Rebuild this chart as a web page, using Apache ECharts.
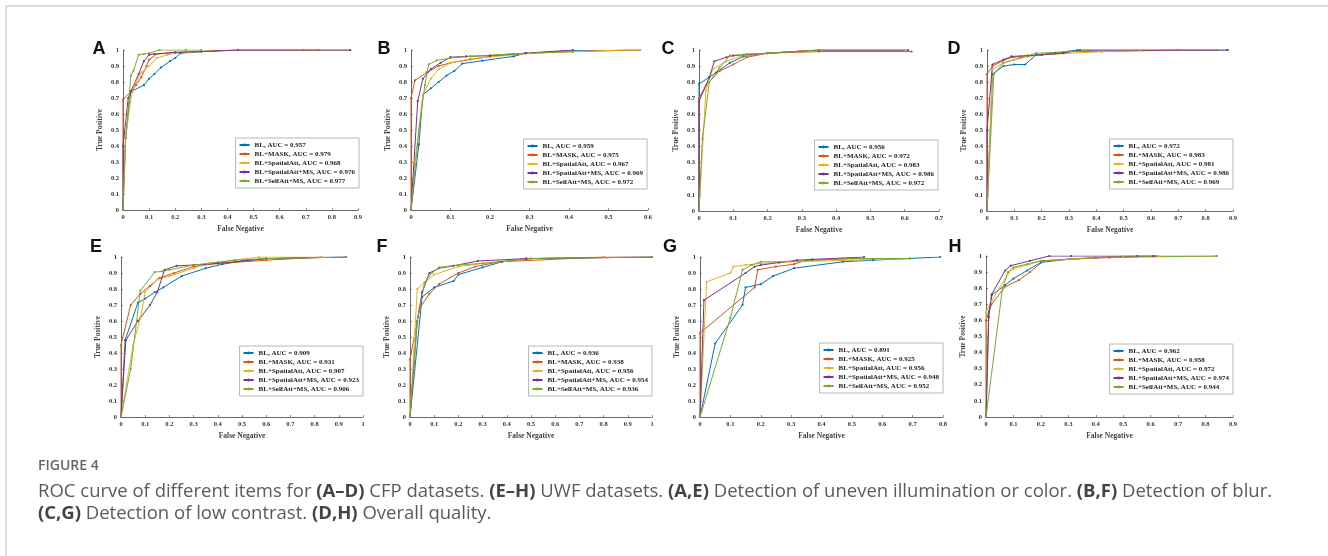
<!DOCTYPE html>
<html><head><meta charset="utf-8">
<script src="https://cdn.jsdelivr.net/npm/echarts@6/dist/echarts.min.js"></script>
<style>html,body{margin:0;padding:0;background:#fff;}#c{width:1328px;height:556px;}</style>
</head><body><div id="c"></div><script>
// ---------- data ----------
const methods = ['BL', 'BL+MASK', 'BL+SpatialAtt', 'BL+SpatialAtt+MS', 'BL+SelfAtt+MS'];
const panelLetters = ['A','B','C','D','E','F','G','H'];
const xMaxes = [0.9, 0.6, 0.7, 0.9, 1, 1, 0.8, 0.9];

const aucA = ['0.957','0.979','0.968','0.976','0.977'];
const aucB = ['0.959','0.975','0.967','0.969','0.972'];
const aucC = ['0.956','0.972','0.983','0.986','0.972'];
const aucD = ['0.972','0.983','0.981','0.986','0.969'];
const aucE = ['0.909','0.931','0.907','0.923','0.906'];
const aucF = ['0.936','0.938','0.956','0.954','0.936'];
const aucG = ['0.891','0.925','0.956','0.948','0.952'];
const aucH = ['0.962','0.958','0.972','0.974','0.944'];

const aBL = [[0,0],[0.01,0.45],[0.03,0.74],[0.08,0.78],[0.1,0.82],[0.12,0.85],[0.145,0.89],[0.18,0.93],[0.2,0.95],[0.22,0.98],[0.3,0.99],[0.44,1],[0.87,1]];
const aMASK = [[0,0],[0,0.69],[0.03,0.74],[0.05,0.78],[0.07,0.83],[0.09,0.9],[0.1,0.94],[0.13,0.975],[0.2,0.985],[0.35,0.995],[0.44,1],[0.69,1],[0.75,1]];
const aSA = [[0,0],[0.01,0.45],[0.03,0.7],[0.05,0.8],[0.07,0.86],[0.1,0.9],[0.13,0.95],[0.17,0.97],[0.2,0.98],[0.3,0.99],[0.44,1],[0.87,1]];
const aSAMS = [[0,0],[0,0.4],[0.02,0.7],[0.03,0.74],[0.06,0.85],[0.08,0.93],[0.1,0.97],[0.12,0.975],[0.2,0.985],[0.3,0.99],[0.44,1],[0.87,1]];
const aSelf = [[0,0],[0.01,0.45],[0.02,0.64],[0.03,0.84],[0.04,0.87],[0.06,0.97],[0.08,0.975],[0.1,0.98],[0.14,1],[0.24,1],[0.3,1]];

const bBL = [[0,0],[0.02,0.41],[0.03,0.72],[0.05,0.76],[0.07,0.8],[0.09,0.84],[0.11,0.87],[0.13,0.915],[0.18,0.933],[0.26,0.96],[0.29,0.98],[0.41,0.995],[0.58,1]];
const bMASK = [[0,0],[0,0.7],[0.01,0.81],[0.04,0.86],[0.07,0.9],[0.1,0.92],[0.15,0.94],[0.2,0.96],[0.3,0.98],[0.41,0.99],[0.58,1]];
const bSA = [[0,0],[0.01,0.3],[0.03,0.72],[0.05,0.82],[0.07,0.88],[0.1,0.92],[0.15,0.945],[0.3,0.98],[0.54,1],[0.58,1]];
const bSAMS = [[0,0],[0.017,0.68],[0.03,0.82],[0.05,0.88],[0.075,0.92],[0.1,0.955],[0.14,0.96],[0.2,0.965],[0.29,0.98],[0.41,1]];
const bSelf = [[0,0],[0.02,0.5],[0.035,0.78],[0.045,0.91],[0.065,0.935],[0.1,0.95],[0.15,0.96],[0.25,0.975],[0.41,0.99]];

const cBL = [[0,0],[0,0.79],[0.03,0.83],[0.05,0.86],[0.09,0.92],[0.13,0.96],[0.2,0.98],[0.35,1],[0.6,1]];
const cMASK = [[0,0],[0,0.7],[0.02,0.78],[0.06,0.87],[0.1,0.91],[0.14,0.955],[0.2,0.98],[0.35,0.99],[0.62,0.99]];
const cSA = [[0,0],[0.02,0.75],[0.04,0.88],[0.08,0.93],[0.12,0.96],[0.2,0.98],[0.35,1],[0.6,1]];
const cSAMS = [[0,0],[0,0.68],[0.03,0.83],[0.045,0.93],[0.08,0.955],[0.1,0.965],[0.2,0.98],[0.35,1],[0.61,1]];
const cSelf = [[0,0],[0.01,0.45],[0.03,0.8],[0.06,0.89],[0.09,0.965],[0.14,0.975],[0.2,0.98],[0.35,1]];

const dBL = [[0,0],[0.02,0.85],[0.06,0.9],[0.1,0.91],[0.14,0.91],[0.18,0.97],[0.25,0.98],[0.33,1],[0.88,1]];
const dMASK = [[0,0],[0,0.85],[0.02,0.9],[0.08,0.95],[0.12,0.96],[0.2,0.97],[0.3,0.99],[0.42,0.99],[0.7,1],[0.84,1]];
const dSA = [[0,0],[0.02,0.88],[0.06,0.92],[0.1,0.94],[0.15,0.96],[0.2,0.97],[0.42,0.99],[0.56,1]];
const dSAMS = [[0,0],[0,0.5],[0.02,0.91],[0.06,0.94],[0.09,0.96],[0.15,0.965],[0.2,0.97],[0.28,0.98],[0.34,1],[0.88,1]];
const dSelf = [[0,0],[0.025,0.85],[0.06,0.92],[0.12,0.95],[0.18,0.98],[0.3,0.99],[0.37,1]];

const eBL = [[0,0],[0.017,0.48],[0.07,0.715],[0.1,0.74],[0.14,0.78],[0.175,0.81],[0.25,0.88],[0.35,0.93],[0.42,0.955],[0.5,0.975],[0.6,0.99],[0.93,1]];
const eMASK = [[0,0],[0,0.45],[0.04,0.7],[0.08,0.77],[0.12,0.82],[0.16,0.87],[0.22,0.9],[0.3,0.94],[0.4,0.96],[0.6,0.98],[0.83,1]];
const eSA = [[0,0],[0.05,0.45],[0.08,0.62],[0.1,0.78],[0.15,0.86],[0.2,0.88],[0.3,0.93],[0.36,0.96],[0.57,1],[0.83,1]];
const eSAMS = [[0,0],[0.02,0.48],[0.07,0.6],[0.12,0.7],[0.15,0.78],[0.18,0.92],[0.23,0.945],[0.3,0.95],[0.4,0.96],[0.6,0.99],[0.93,1]];
const eSelf = [[0,0],[0.04,0.3],[0.08,0.79],[0.14,0.906],[0.17,0.91],[0.2,0.92],[0.3,0.95],[0.47,0.98],[0.6,0.99],[0.93,1]];

const fBL = [[0,0],[0.05,0.75],[0.1,0.81],[0.18,0.85],[0.2,0.89],[0.3,0.935],[0.38,0.97],[0.48,0.99],[1,1]];
const fMASK = [[0,0],[0,0.36],[0.04,0.68],[0.08,0.77],[0.12,0.83],[0.2,0.9],[0.27,0.94],[0.37,0.97],[0.8,1],[1,1]];
const fSA = [[0,0],[0.03,0.8],[0.06,0.84],[0.1,0.89],[0.2,0.94],[0.3,0.96],[0.5,0.99],[0.8,1]];
const fSAMS = [[0,0],[0.03,0.6],[0.05,0.78],[0.08,0.9],[0.12,0.93],[0.18,0.945],[0.28,0.975],[0.48,0.99],[1,1]];
const fSelf = [[0,0],[0.03,0.6],[0.06,0.84],[0.09,0.9],[0.12,0.935],[0.2,0.95],[0.3,0.96],[0.5,0.99],[1,1]];

const gBL = [[0,0],[0.05,0.46],[0.14,0.7],[0.15,0.81],[0.2,0.83],[0.24,0.88],[0.31,0.93],[0.47,0.97],[0.57,0.98],[0.79,1]];
const gMASK = [[0,0],[0,0.525],[0.18,0.81],[0.19,0.92],[0.25,0.94],[0.31,0.955],[0.35,0.98],[0.5,0.99],[0.69,0.99]];
const gSA = [[0,0],[0.022,0.845],[0.1,0.9],[0.11,0.94],[0.15,0.95],[0.2,0.96],[0.3,0.97],[0.5,0.98],[0.69,0.99]];
const gSAMS = [[0,0],[0.013,0.73],[0.15,0.9],[0.18,0.94],[0.2,0.95],[0.26,0.965],[0.32,0.98],[0.37,0.985],[0.54,1]];
const gSelf = [[0,0],[0.1,0.62],[0.14,0.92],[0.17,0.95],[0.2,0.97],[0.27,0.97],[0.5,0.99],[0.69,0.99]];

const hBL = [[0,0],[0.01,0.65],[0.022,0.76],[0.07,0.82],[0.1,0.86],[0.15,0.91],[0.2,0.96],[0.3,0.98],[0.4,0.99],[0.55,1],[0.61,1]];
const hMASK = [[0,0],[0,0.6],[0.02,0.7],[0.07,0.81],[0.12,0.85],[0.16,0.9],[0.21,0.97],[0.3,0.98],[0.45,0.99],[0.62,1],[0.84,1]];
const hSA = [[0,0],[0,0.65],[0.02,0.72],[0.08,0.89],[0.1,0.92],[0.16,0.95],[0.2,0.97],[0.3,0.98],[0.5,1],[0.63,1]];
const hSAMS = [[0,0],[0.01,0.62],[0.02,0.76],[0.07,0.91],[0.09,0.94],[0.16,0.97],[0.23,1],[0.31,1],[0.61,1]];
const hSelf = [[0,0],[0.06,0.8],[0.08,0.9],[0.1,0.93],[0.15,0.95],[0.2,0.97],[0.4,0.99],[0.84,1]];

// ---------- assembly ----------
const panelSeries = [
  [aBL,aMASK,aSA,aSAMS,aSelf],[bBL,bMASK,bSA,bSAMS,bSelf],[cBL,cMASK,cSA,cSAMS,cSelf],[dBL,dMASK,dSA,dSAMS,dSelf],
  [eBL,eMASK,eSA,eSAMS,eSelf],[fBL,fMASK,fSA,fSAMS,fSelf],[gBL,gMASK,gSA,gSAMS,gSelf],[hBL,hMASK,hSA,hSAMS,hSelf]
];
const panelAuc = [aucA,aucB,aucC,aucD,aucE,aucF,aucG,aucH];

const colors = ['#0072BD','#D95319','#EDB120','#7E2F8E','#77AC30'];
// layout: [left, top, width, height]
const gridBoxes = [
  [123,50,235,160],[411,50,237,160],[699,50,240,161],[987,50,246,161],
  [121,257,242,160],[410,257,242,160],[700,257,243,160],[986,256,247,161]
];
const legendPos = [[359,138],[647,139],[938,140],[1233,139],[363,346],[652,346],[943,343],[1233,344]];
const letterPos = [[99,49],[384,49],[668,49],[954,49],[96,247],[382,247],[670,247],[955,247]];

const serif = '"Liberation Serif", "DejaVu Serif", serif';
const grid=[], xAxis=[], yAxis=[], series=[], legend=[], graphic=[];

panelSeries.forEach((sets, p) => {
  const g = gridBoxes[p];
  grid.push({left:g[0], top:g[1], width:g[2], height:g[3], containLabel:false});
  const axCommon = {
    axisLine:{show:true, lineStyle:{color:'#444', width:0.8}},
    axisTick:{show:true, inside:true, length:2, lineStyle:{color:'#444', width:0.6}},
    splitLine:{show:false},
    axisLabel:{color:'#333', fontFamily:serif, fontWeight:'bold', fontSize:6.5},
    nameTextStyle:{color:'#444', fontFamily:serif, fontWeight:'bold', fontSize:7.5}
  };
  xAxis.push(Object.assign({}, axCommon, {
    type:'value', gridIndex:p, min:0, max:xMaxes[p], interval:0.1,
    name:'False Negative', nameLocation:'middle', nameGap:15,
    axisLabel:Object.assign({}, axCommon.axisLabel, {margin:4})
  }));
  yAxis.push(Object.assign({}, axCommon, {
    type:'value', gridIndex:p, min:0, max:1, interval:0.1,
    name:'True Positive', nameLocation:'middle', nameGap:19,
    axisLabel:Object.assign({}, axCommon.axisLabel, {margin:4})
  }));
  const names = [];
  sets.forEach((d, i) => {
    const nm = methods[i] + ', AUC = ' + panelAuc[p][i];
    names.push(nm);
    series.push({
      type:'line', name:nm, xAxisIndex:p, yAxisIndex:p, data:d,
      color:colors[i], symbol:'circle', symbolSize:2.2, showSymbol:true,
      lineStyle:{width:1, color:colors[i]}, itemStyle:{color:colors[i]},
      animation:false, silent:true
    });
  });
  legend.push({
    data:names, orient:'vertical', align:'left',
    right:1328 - legendPos[p][0], top:legendPos[p][1],
    itemWidth:10, itemHeight:3.5, itemGap:1,
    padding:[3,4,3,3], borderColor:'#999', borderWidth:0.7, backgroundColor:'#fff',
    textStyle:{fontFamily:serif, fontWeight:'bold', fontSize:7, color:'#222', lineHeight:8},
    selectedMode:false
  });
  graphic.push({type:'text', x:letterPos[p][0], y:letterPos[p][1],
    style:{text:panelLetters[p], font:'bold 18px "Liberation Sans", Arial, sans-serif', fill:'#111', align:'center', verticalAlign:'middle'}});
});

// frame lines
graphic.push({type:'line', shape:{x1:6, y1:6, x2:1328, y2:6}, style:{stroke:'#cfcfcf', lineWidth:1.5}});
graphic.push({type:'line', shape:{x1:6, y1:6, x2:6, y2:556}, style:{stroke:'#cfcfcf', lineWidth:1.5}});

// caption
const capFont = '"Open Sans", "Noto Sans", sans-serif';
graphic.push({type:'text', left:38, top:459, style:{text:'FIGURE 4', font:'600 14px ' + capFont, fill:'#666'}});
const cap1 = [['ROC curve of different items for ',0],['(A–D)',1],[' CFP datasets. ',0],['(E–H)',1],[' UWF datasets. ',0],['(A,E)',1],[' Detection of uneven illumination or color. ',0],['(B,F)',1],[' Detection of blur.',0]];
const cap2 = [['(C,G)',1],[' Detection of low contrast. ',0],['(D,H)',1],[' Overall quality.',0]];
const rich = {n:{font:'400 18.5px ' + capFont, fill:'#5a5a5a'}, b:{font:'700 18.5px ' + capFont, fill:'#444'}};
const toRich = arr => arr.map(([t,b]) => '{' + (b ? 'b' : 'n') + '|' + t + '}').join('');
graphic.push({type:'text', left:38, top:482, style:{text:toRich(cap1), rich:rich}});
graphic.push({type:'text', left:38, top:504, style:{text:toRich(cap2), rich:rich}});

const chart = echarts.init(document.getElementById('c'), null, {renderer:'canvas'});
chart.setOption({animation:false, backgroundColor:'#fff', grid, xAxis, yAxis, series, legend, graphic});
</script></body></html>
